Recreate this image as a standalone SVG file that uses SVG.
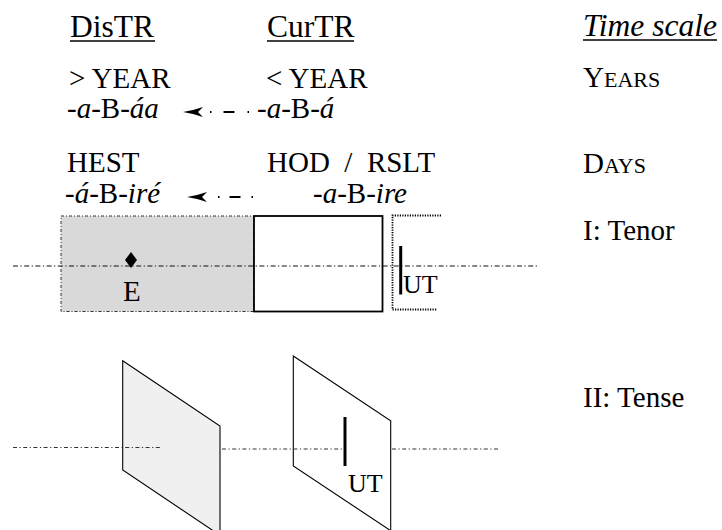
<svg xmlns="http://www.w3.org/2000/svg" width="722" height="530" viewBox="0 0 722 530">
<style>
text{font-family:"Liberation Serif","Times New Roman",serif;font-size:29px;fill:#000}
.h{font-size:31.5px}
.i{font-style:italic}
.sc{font-size:22px}
.ut{font-size:26px}
.ul{stroke:#000;stroke-width:1.6}
.axis{fill:none;stroke:#111;stroke-width:1.1;stroke-dasharray:5 2.5 1.2 2.5}
.axis2{fill:none;stroke:#333;stroke-width:1.2;stroke-dasharray:4 2.5 1.2 2.5}
.arr{fill:none;stroke:#000;stroke-width:2}
</style>
<defs>
<marker id="ah" markerUnits="userSpaceOnUse" viewBox="0 0 20 12" refX="20" refY="6" markerWidth="20" markerHeight="12" orient="auto">
<path d="M0,1 Q10,4.5 20,6 Q10,7.5 0,11 L5,6 Z" fill="#000"/>
</marker>
</defs>
<rect width="722" height="530" fill="#fff"/>

<g id="heading-distr"><text class="h" x="70" y="37">DisTR</text><line class="ul" x1="70" y1="41" x2="155" y2="41"/></g>
<g id="heading-curtr"><text class="h" x="267" y="37">CurTR</text><line class="ul" x1="267" y1="41" x2="354" y2="41"/></g>
<g id="heading-timescale"><text class="h i" x="583" y="36">Time scale</text><line class="ul" x1="583" y1="40" x2="717" y2="40"/></g>

<g id="distr-year"><text x="69" y="88">&gt; YEAR</text><text x="67" y="118">-<tspan class="i">a</tspan>-B-<tspan class="i">áa</tspan></text></g>
<g id="curtr-year"><text x="266" y="88">&lt; YEAR</text><text x="257" y="118">-<tspan class="i">a</tspan>-B-<tspan class="i">á</tspan></text></g>
<g id="scale-years"><text x="583" y="87">Y<tspan class="sc">EARS</tspan></text></g>

<g id="distr-hest"><text x="67" y="172">HEST</text><text x="65" y="203">-<tspan class="i">á</tspan>-B-<tspan class="i">iré</tspan></text></g>
<g id="curtr-hod"><text x="267" y="172" xml:space="preserve">HOD  /  RSLT</text><text x="313" y="203">-<tspan class="i">a</tspan>-B-<tspan class="i">ire</tspan></text></g>
<g id="scale-days"><text x="583" y="173">D<tspan class="sc">AYS</tspan></text></g>

<g id="label-tenor"><text x="583" y="240">I: Tenor</text></g>
<g id="label-tense"><text x="583" y="407">II: Tense</text></g>

<g id="tenor-distr">
<rect x="61" y="216" width="192.5" height="95.5" fill="#d9d9d9" stroke="#333" stroke-width="1" stroke-dasharray="3 2 1 2"/>
<path d="M131,252 L137,260 L131,268 L125,260 Z" fill="#000"/>
<text x="123" y="301">E</text>
</g>
<g id="tenor-curtr">
<rect x="254" y="216" width="128.5" height="95.5" fill="#fff" stroke="#000" stroke-width="1.8"/>
</g>
<g id="tenor-ut">
<path d="M441,215.5 H392.5 V309.5 H437" fill="none" stroke="#000" stroke-width="1.8" stroke-dasharray="1.2 1.3"/>
</g>

<g id="tense-distr">
<polygon points="122.7,360.7 220,426 220,535.3 122.7,470" fill="#f0f0f0" stroke="#000" stroke-width="1.1"/>
</g>
<g id="tense-curtr">
<polygon points="293.3,356 390.7,420.7 390.7,530.7 293.3,466" fill="#fff" stroke="#000" stroke-width="1.1"/>
</g>

<g id="connectors">
<path class="arr" d="M249,112 H183" stroke-dasharray="1.5 13 11 12 1.5 100" marker-end="url(#ah)"/>
<path class="arr" d="M253,197 H187" stroke-dasharray="1.5 11 11 10 1.5 100" marker-end="url(#ah)"/>
<path class="axis" d="M13,266 H538"/>
<path class="axis2" d="M13,447.5 H162"/>
<path class="axis2" d="M222,449 H343"/>
<path class="axis2" d="M392,449 H498"/>
</g>

<g id="ut-marks">
<line x1="400.7" y1="246" x2="400.7" y2="294.5" stroke="#000" stroke-width="3"/>
<text class="ut" x="403" y="293">UT</text>
<line x1="345" y1="417" x2="345" y2="466" stroke="#000" stroke-width="3"/>
<text class="ut" x="348" y="492">UT</text>
</g>
</svg>
